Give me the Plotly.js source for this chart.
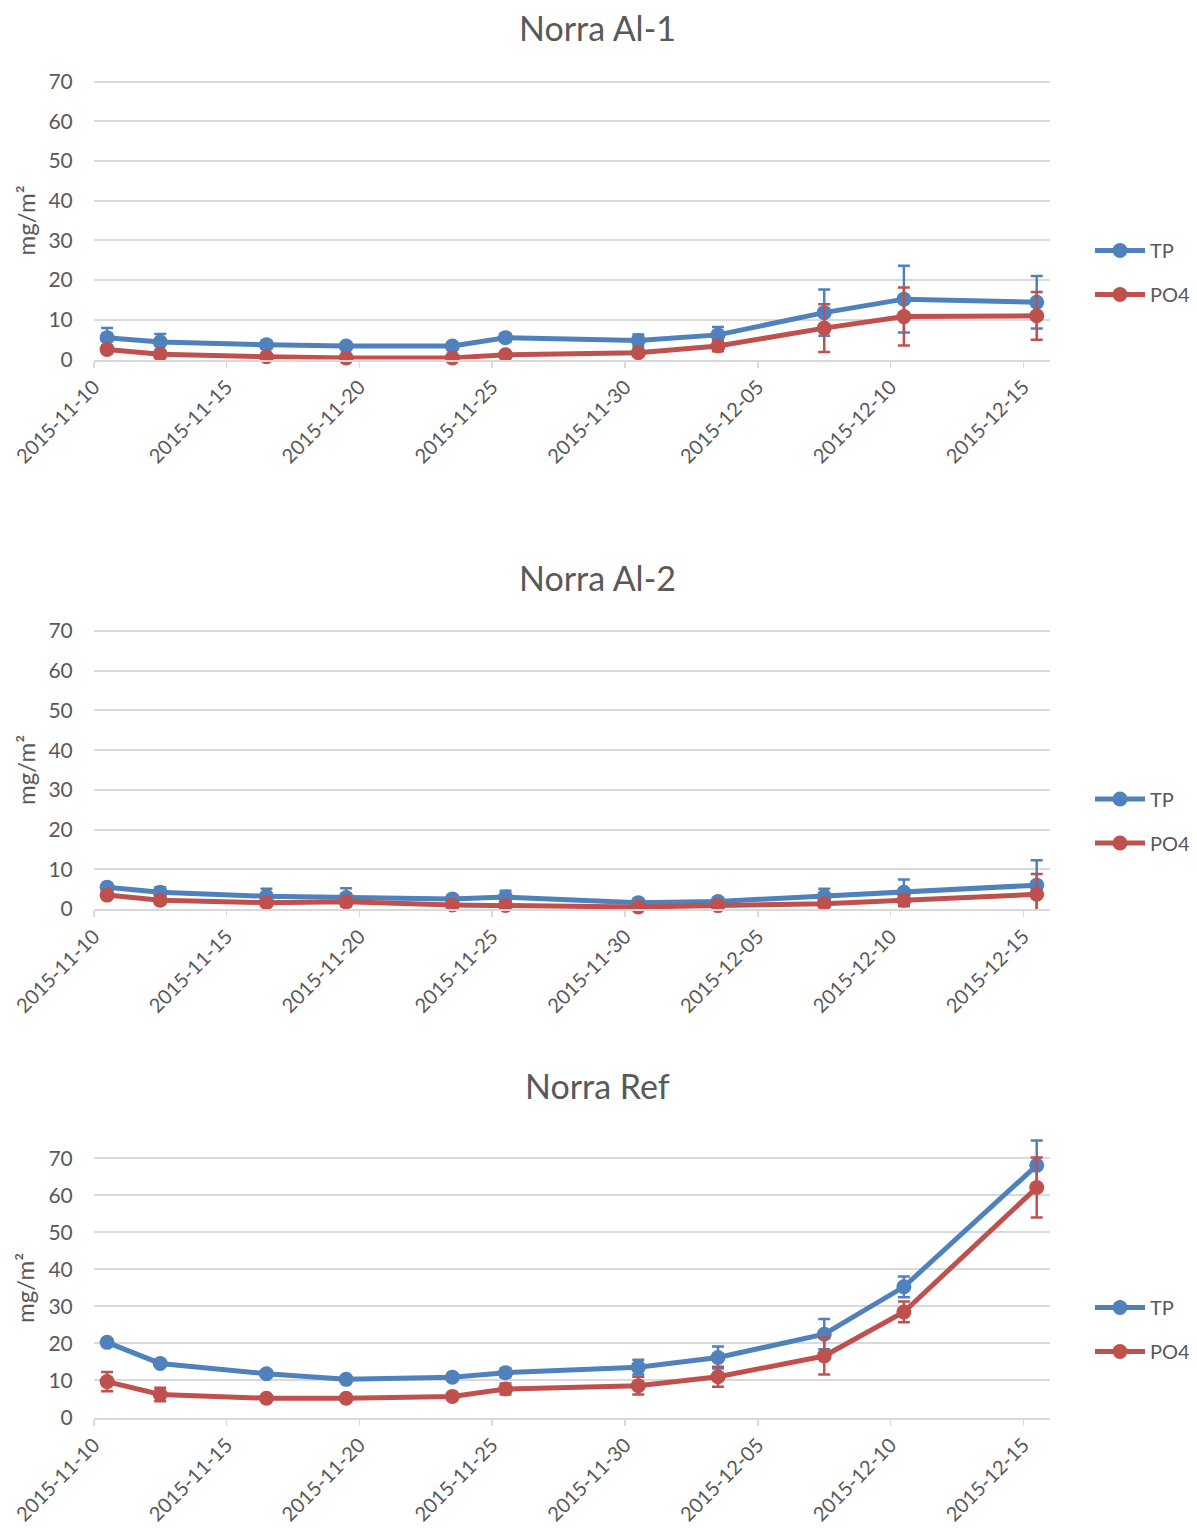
<!DOCTYPE html>
<html>
<head>
<meta charset="utf-8">
<script src="https://cdn.plot.ly/plotly-3.0.1.min.js"></script>
<style>
  html, body { margin: 0; padding: 0; background: #fff; }
  #chart { width: 1197px; height: 1528px; }
</style>
</head>
<body>
<div id="chart"></div>
<script>
// ---- Data ----
const dates = ["2015-11-10","2015-11-12","2015-11-16","2015-11-19","2015-11-23","2015-11-25",
               "2015-11-30","2015-12-03","2015-12-07","2015-12-10","2015-12-15"];
const panelTitles = ["Norra Al-1", "Norra Al-2", "Norra Ref"];
const seriesNames = ["TP", "PO4"];

const al1TP      = [5.5, 4.4, 3.7, 3.4, 3.4, 5.5, 4.8, 6.2, 11.8, 15.2, 14.4];
const al1TPerr   = [2.4, 2.0, 1.0, 0.8, 0.8, 1.0, 1.5, 2.0, 5.8, 8.4, 6.6];
const al1PO4     = [2.5, 1.3, 0.7, 0.4, 0.4, 1.2, 1.7, 3.4, 7.9, 10.8, 11.0];
const al1PO4err  = [1.0, 0.8, 0.5, 0.4, 0.4, 0.6, 0.6, 1.3, 6.0, 7.3, 6.0];

const al2TP      = [5.5, 4.2, 3.2, 2.9, 2.5, 3.0, 1.6, 1.9, 3.2, 4.2, 6.0];
const al2TPerr   = [0.6, 1.3, 1.9, 2.3, 1.0, 1.6, 0.6, 0.6, 1.9, 3.2, 6.3];
const al2PO4     = [3.5, 2.2, 1.6, 1.8, 1.0, 0.9, 0.5, 0.85, 1.35, 2.2, 3.7];
const al2PO4err  = [0.8, 1.0, 0.6, 0.8, 0.5, 0.5, 0.3, 0.4, 0.6, 1.5, 5.1];

const refTP      = [20.3, 14.6, 11.8, 10.3, 10.9, 12.1, 13.6, 16.2, 22.5, 35.3, 68.1];
const refTPerr   = [0.8, 0.8, 0.8, 0.6, 0.8, 1.2, 2.0, 3.0, 4.1, 2.8, 6.7];
const refPO4     = [9.7, 6.2, 5.2, 5.2, 5.7, 7.7, 8.6, 11.0, 16.6, 28.5, 62.1];
const refPO4err  = [2.6, 1.8, 0.6, 0.5, 0.6, 1.5, 2.4, 2.7, 5.0, 2.8, 8.1];

const yTickVals = [0, 10, 20, 30, 40, 50, 60, 70];

// ---- Styles ----
const W = 1197, H = 1528;
const colors = ["#4F81BD", "#C0504D"];
const textColor = "#595959";
const gridColor = "#D9D9D9";
const fontFam = "Lato, 'Open Sans', sans-serif";
const yAxisMax = 70;      // last gridline / label
const yRangeMax = 76;     // headroom so error bars above 70 are visible (no top border)

// Excel date axis: each date occupies one day slot; points sit mid-slot
const xMid = dates.map(d => d + " 12:00");

// pixel positions of the 0 and 70 gridlines in each panel
const panels = [
  { tp: al1TP, tpErr: al1TPerr, po: al1PO4, poErr: al1PO4err, top: 81.5, bottom: 359.5, title: 27, legTop: 250, legBot: 295 },
  { tp: al2TP, tpErr: al2TPerr, po: al2PO4, poErr: al2PO4err, top: 631, bottom: 909, title: 577, legTop: 799, legBot: 843 },
  { tp: refTP, tpErr: refTPerr, po: refPO4, poErr: refPO4err, top: 1158.3, bottom: 1417.5, title: 1085, legTop: 1307, legBot: 1352 }
];

const traces = [];
const layout = {
  width: W, height: H,
  margin: { l: 0, r: 0, t: 0, b: 0, autoexpand: false },
  paper_bgcolor: "#fff", plot_bgcolor: "#fff",
  font: { family: fontFam, color: textColor, size: 20 },
  annotations: [],
  showlegend: true
};

panels.forEach((p, i) => {
  const n = i + 1;
  const xa = n === 1 ? "x" : "x" + n;
  const ya = n === 1 ? "y" : "y" + n;
  const legId = n === 1 ? "legend" : "legend" + n;
  const vals = [p.tp, p.po];
  const errs = [p.tpErr, p.poErr];
  vals.forEach((v, s) => {
    traces.push({
      type: "scatter", mode: "lines+markers",
      x: xMid, y: v, name: seriesNames[s],
      xaxis: xa, yaxis: ya, legend: legId,
      legendgroup: "g" + n + "_" + s,
      line: { color: colors[s], width: 5 },
      marker: { color: colors[s], size: 15 },
      error_y: { type: "data", array: errs[s], visible: true, color: colors[s], thickness: 2.5, width: 6 },
      cliponaxis: false
    });
  });
  const pxPerUnit = (p.bottom - p.top) / yAxisMax;
  const domTop = p.bottom - pxPerUnit * yRangeMax;
  layout["xaxis" + (n === 1 ? "" : n)] = {
    domain: [93.8 / W, 1050 / W],
    anchor: ya,
    type: "date",
    range: ["2015-11-10", "2015-12-16"],
    tick0: "2015-11-10", dtick: 5 * 86400000,
    tickformat: "%Y-%m-%d",
    tickangle: -45,
    ticks: "outside", ticklen: 6, tickcolor: gridColor, tickwidth: 1.5,
    showline: true, linecolor: gridColor, linewidth: 2,
    showgrid: false, zeroline: false, automargin: false,
    tickfont: { size: 20, color: textColor, family: fontFam },
    fixedrange: true
  };
  layout["yaxis" + (n === 1 ? "" : n)] = {
    domain: [1 - p.bottom / H, 1 - domTop / H],
    anchor: xa,
    range: [0, yRangeMax],
    tickvals: yTickVals,
    showgrid: true, gridcolor: gridColor, gridwidth: 2,
    zeroline: false, showline: false, ticks: "", automargin: false,
    ticklabelstandoff: 20,
    tickfont: { size: 21, color: textColor, family: fontFam },
    fixedrange: true
  };
  layout[legId] = {
    x: 1090 / W, xanchor: "left",
    y: 1 - ((p.legTop + p.legBot) / 2) / H, yanchor: "middle",
    font: { size: 20, color: textColor, family: fontFam },
    bgcolor: "rgba(0,0,0,0)",
    itemwidth: 50,
    tracegroupgap: 15,
    traceorder: "grouped"
  };
  layout.annotations.push({
    text: panelTitles[i], xref: "paper", yref: "paper",
    x: 597 / W, y: 1 - p.title / H, xanchor: "center", yanchor: "middle",
    showarrow: false, font: { size: 34, color: textColor, family: fontFam }
  });
  layout.annotations.push({
    text: "mg/m²", xref: "paper", yref: "paper",
    x: 25 / W, y: 1 - ((p.top + p.bottom) / 2) / H, xanchor: "center", yanchor: "middle",
    textangle: -90, showarrow: false, font: { size: 24, color: textColor, family: fontFam }
  });
});

Plotly.newPlot("chart", traces, layout, { displayModeBar: false, staticPlot: true });
</script>
</body>
</html>
